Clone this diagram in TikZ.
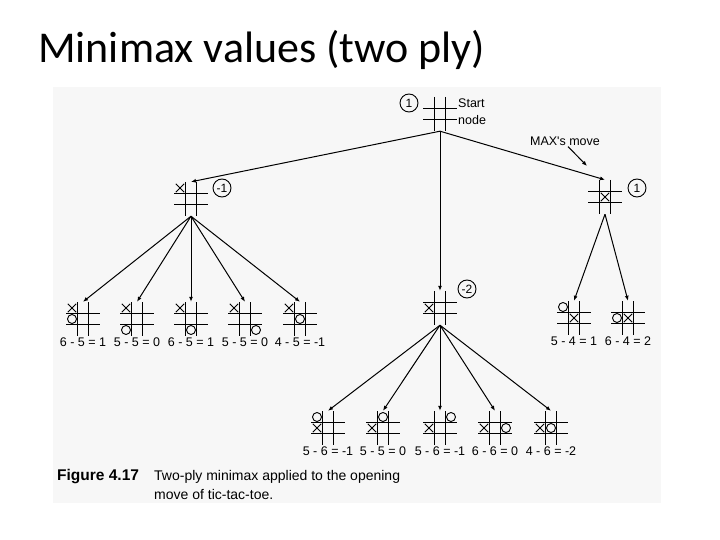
\documentclass[tikz,border=0pt]{standalone}
\usepackage{fontspec}
\usepackage{tikz}
\usetikzlibrary{arrows.meta, positioning, shapes.misc}
\newfontfamily\titlefont{Carlito}
\newfontfamily\scanfont{Liberation Sans}

\begin{document}
\begin{tikzpicture}[
    x=1pt, y=-1pt,
    gridline/.style={line width=1.3pt},
    board/.style={minimum size=34pt, inner sep=0pt, path picture={
        \draw[gridline] ([xshift=-5.5pt]path picture bounding box.north) -- ([xshift=-5.5pt]path picture bounding box.south)
            ([xshift=5.5pt]path picture bounding box.north) -- ([xshift=5.5pt]path picture bounding box.south)
            ([yshift=-5.5pt]path picture bounding box.west) -- ([yshift=-5.5pt]path picture bounding box.east)
            ([yshift=5.5pt]path picture bounding box.west) -- ([yshift=5.5pt]path picture bounding box.east);}},
    xmk/.style={cross out, draw, line width=0.9pt, minimum size=7.5pt, inner sep=0pt},
    omk/.style={circle, draw, line width=0.9pt, minimum size=9pt, inner sep=0pt},
    vcirc/.style={circle, draw, line width=0.9pt, minimum size=18pt, inner sep=0pt, font=\scanfont\fontsize{12}{14}\selectfont},
    score/.style={inner sep=1pt, font=\scanfont\fontsize{12.5}{15}\selectfont},
    note/.style={inner sep=1pt, align=left, font=\scanfont\fontsize{12.5}{17}\selectfont},
    arrow/.style={-{Latex[length=5pt, width=4pt]}, line width=1pt}
]
\useasboundingbox (0,0) rectangle (720,540);
\fill[black!3] (53,87) rectangle (661,503);

\node[anchor=base west, inner sep=0pt, font=\titlefont\fontsize{44}{50}\selectfont] (title) at (38,63) {Minimax values (two ply)};

% start node and first ply
\node[board] (root) at (440,114) {};
\node[vcirc] (rootv) at (409,103) {1};
\node[note, anchor=west] (startlbl) at (457,112) {Start\\node};

\node[board] (a) at (191,199) {};
\node[xmk] (ax) at ([shift={(-11,-11)}]a.center) {};
\node[vcirc] (av) at (222,188) {-1};

\node[board] (b) at (440,308) {};
\node[xmk] (bx) at ([shift={(-11,0)}]b.center) {};
\node[vcirc] (bv) at (467,289) {-2};

\node[board] (c) at (605,197) {};
\node[xmk] (cx) at (c.center) {};
\node[vcirc] (cv) at (637,188) {1};

\node[note] (maxlbl) at (565,141) {MAX's move};
\coordinate (maxtip) at (587,166);

\draw[arrow] (root.south) -- (a.north);
\draw[arrow] (root.south) -- (b.north);
\draw[arrow] (root.south) -- (c.north);
\draw[arrow] ([xshift=3pt]maxlbl.south) -- (maxtip);

% replies to X in the corner
\node[board] (a1) at (83,319) {};
\node[xmk] (a1x) at ([shift={(-11,-11)}]a1.center) {};
\node[omk] (a1o) at ([shift={(-11,0)}]a1.center) {};
\node[board] (a2) at (137,319) {};
\node[xmk] (a2x) at ([shift={(-11,-11)}]a2.center) {};
\node[omk] (a2o) at ([shift={(-11,11)}]a2.center) {};
\node[board] (a3) at (191,319) {};
\node[xmk] (a3x) at ([shift={(-11,-11)}]a3.center) {};
\node[omk] (a3o) at ([shift={(0,11)}]a3.center) {};
\node[board] (a4) at (245,319) {};
\node[xmk] (a4x) at ([shift={(-11,-11)}]a4.center) {};
\node[omk] (a4o) at ([shift={(11,11)}]a4.center) {};
\node[board] (a5) at (300,319) {};
\node[xmk] (a5x) at ([shift={(-11,-11)}]a5.center) {};
\node[omk] (a5o) at (a5.center) {};

\node[score, below=0pt of a1] (a1v) {6 - 5 = 1};
\node[score, below=0pt of a2] (a2v) {5 - 5 = 0};
\node[score, below=0pt of a3] (a3v) {6 - 5 = 1};
\node[score, below=0pt of a4] (a4v) {5 - 5 = 0};
\node[score, below=0pt of a5] (a5v) {4 - 5 = -1};

\draw[arrow] (a.south) -- (a1.north);
\draw[arrow] (a.south) -- (a2.north);
\draw[arrow] (a.south) -- (a3.north);
\draw[arrow] (a.south) -- (a4.north);
\draw[arrow] (a.south) -- (a5.north);

% replies to X in the centre
\node[board] (c1) at (574,318) {};
\node[omk] (c1o) at ([shift={(-11,-11)}]c1.center) {};
\node[xmk] (c1x) at (c1.center) {};
\node[board] (c2) at (628,318) {};
\node[omk] (c2o) at ([shift={(-11,0)}]c2.center) {};
\node[xmk] (c2x) at (c2.center) {};

\node[score, below=0pt of c1] (c1v) {5 - 4 = 1};
\node[score, below=0pt of c2] (c2v) {6 - 4 = 2};

\draw[arrow] (c.south) -- (c1.north);
\draw[arrow] (c.south) -- (c2.north);

% replies to X on the side
\node[board] (b1) at (328,428) {};
\node[omk] (b1o) at ([shift={(-11,-11)}]b1.center) {};
\node[xmk] (b1x) at ([shift={(-11,0)}]b1.center) {};
\node[board] (b2) at (383,428) {};
\node[omk] (b2o) at ([shift={(0,-11)}]b2.center) {};
\node[xmk] (b2x) at ([shift={(-11,0)}]b2.center) {};
\node[board] (b3) at (440,428) {};
\node[omk] (b3o) at ([shift={(11,-11)}]b3.center) {};
\node[xmk] (b3x) at ([shift={(-11,0)}]b3.center) {};
\node[board] (b4) at (495,428) {};
\node[xmk] (b4x) at ([shift={(-11,0)}]b4.center) {};
\node[omk] (b4o) at ([shift={(11,0)}]b4.center) {};
\node[board] (b5) at (551,428) {};
\node[xmk] (b5x) at ([shift={(-11,0)}]b5.center) {};
\node[omk] (b5o) at (b5.center) {};

\node[score, below=0pt of b1] (b1v) {5 - 6 = -1};
\node[score, below=0pt of b2] (b2v) {5 - 5 = 0};
\node[score, below=0pt of b3] (b3v) {5 - 6 = -1};
\node[score, below=0pt of b4] (b4v) {6 - 6 = 0};
\node[score, below=0pt of b5] (b5v) {4 - 6 = -2};

\draw[arrow] (b.south) -- (b1.north);
\draw[arrow] (b.south) -- (b2.north);
\draw[arrow] (b.south) -- (b3.north);
\draw[arrow] (b.south) -- (b4.north);
\draw[arrow] (b.south) -- (b5.north);

% caption
\node[anchor=west, inner sep=0pt, font=\scanfont\bfseries\fontsize{15.5}{17}\selectfont] (fig) at (57,477) {Figure 4.17};
\node[anchor=west, inner sep=0pt, font=\scanfont\fontsize{14}{16}\selectfont] (cap1) at (154,477) {Two-ply minimax applied to the opening};
\node[anchor=west, inner sep=0pt, font=\scanfont\fontsize{14}{16}\selectfont] (cap2) at (154,494) {move of tic-tac-toe.};

\end{tikzpicture}
\end{document}
